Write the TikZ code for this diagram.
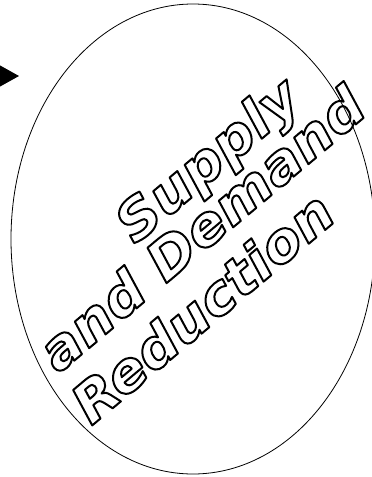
\documentclass[tikz,border=0pt]{standalone}
\usepackage{fontspec}
\usetikzlibrary{calc, shapes.geometric, positioning, arrows.meta}
\newfontfamily\slogfont{DejaVu Sans Bold Oblique}[FakeStretch=1.06]
\newcommand{\hollow}[1]{\special{pdf:literal direct q 1 Tr 2 w 0 G 1 j}#1\special{pdf:literal direct Q}}

\begin{document}
\begin{tikzpicture}[x=1pt, y=-1pt, >=latex,
    slogan/.style={font=\slogfont\fontsize{54}{54}\selectfont,
                   inner sep=0pt, rotate=40}]
    \useasboundingbox (0,0) rectangle (372,477);
    \clip (0,0) rectangle (372,477);

    % Hình elip
    \node[draw, ellipse, line width=0.8pt, minimum width=364, minimum height=470,
          inner sep=0pt] (oval) at (193,239) {};

    % Mũi tên bên trái
    \coordinate (tail) at (-60,76);
    \coordinate (tip) at (19,76);
    \draw[line width=1pt, -{Triangle[length=20pt, width=22pt]}] (tail) -- (tip);

    % Chữ viền
    \node[slogan] (supply) at (210,163) {\hollow{Supply}};
    \node[slogan] (demand) at (201,228) {\hollow{and Demand}};
    \node[slogan] (reduce) at (202,307) {\hollow{Reduction}};
\end{tikzpicture}
\end{document}
